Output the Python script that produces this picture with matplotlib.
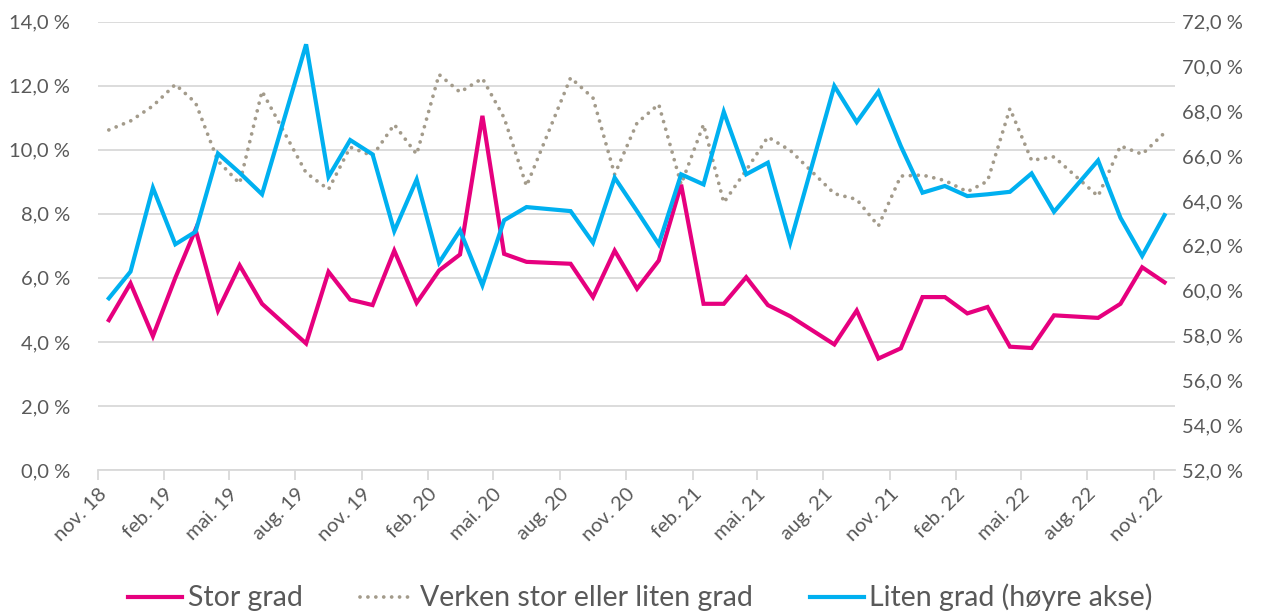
import matplotlib
matplotlib.use("Agg")
import matplotlib.pyplot as plt
import pandas as pd
from matplotlib.ticker import FuncFormatter, MultipleLocator

# Data - monthly survey, no survey in July
months = ["2018-11", "2018-12",
          "2019-01", "2019-02", "2019-03", "2019-04", "2019-05", "2019-06",
          "2019-08", "2019-09", "2019-10", "2019-11", "2019-12",
          "2020-01", "2020-02", "2020-03", "2020-04", "2020-05", "2020-06",
          "2020-08", "2020-09", "2020-10", "2020-11", "2020-12",
          "2021-01", "2021-02", "2021-03", "2021-04", "2021-05", "2021-06",
          "2021-08", "2021-09", "2021-10", "2021-11", "2021-12",
          "2022-01", "2022-02", "2022-03", "2022-04", "2022-05", "2022-06",
          "2022-08", "2022-09", "2022-10", "2022-11"]

stor_grad = [4.68, 5.83,
             4.18, 6.00, 7.51, 4.98, 6.39, 5.19,
             3.95, 6.19, 5.32, 5.15, 6.85,
             5.22, 6.23, 6.73, 11.06, 6.75, 6.50,
             6.44, 5.40, 6.85, 5.66, 6.54,
             8.91, 5.19, 5.19, 6.02, 5.15, 4.80,
             3.92, 4.98, 3.48, 3.80, 5.40,
             5.40, 4.89, 5.09, 3.85, 3.81, 4.83,
             4.75, 5.19, 6.33, 5.86]

verken = [10.62, 10.90,
          11.37, 12.04, 11.47, 9.65, 8.95, 11.83,
          9.28, 8.76, 10.08, 9.81, 10.79,
          9.86, 12.35, 11.80, 12.23, 11.00, 8.87,
          12.25, 11.62, 9.23, 10.84, 11.42,
          8.92, 10.79, 8.35, 9.36, 10.40, 9.98,
          8.63, 8.45, 7.62, 9.18, 9.21,
          9.04, 8.69, 9.02, 11.29, 9.67, 9.78,
          8.55, 10.12, 9.86, 10.53]

liten_grad = [59.66, 60.85,
              64.59, 62.07, 62.63, 66.12, 65.26, 64.30,
              70.99, 65.08, 66.72, 66.08, 62.66,
              64.96, 61.25, 62.69, 60.24, 63.14, 63.73,
              63.55, 62.14, 65.04, 63.55, 62.07,
              65.19, 64.74, 67.98, 65.19, 65.71, 62.14,
              69.13, 67.52, 68.88, 66.45, 64.37,
              64.67, 64.22, 64.30, 64.41, 65.23, 63.52,
              65.81, 63.25, 61.55, 63.37]

tick_months = ["2018-11", "2019-02", "2019-05", "2019-08", "2019-11", "2020-02",
               "2020-05", "2020-08", "2020-11", "2021-02", "2021-05", "2021-08",
               "2021-11", "2022-02", "2022-05", "2022-08", "2022-11"]
tick_labels = ["nov. 18", "feb. 19", "mai. 19", "aug. 19", "nov. 19", "feb. 20",
               "mai. 20", "aug. 20", "nov. 20", "feb. 21", "mai. 21", "aug. 21",
               "nov. 21", "feb. 22", "mai. 22", "aug. 22", "nov. 22"]

# Farger
PINK = "#E6007E"
GRAY = "#A39B8B"
BLUE = "#00B0F0"
TXT = "#595959"
GRID = "#D9D9D9"

plt.rcParams["font.family"] = ["Lato", "DejaVu Sans"]

dates = pd.to_datetime(months) + pd.Timedelta(days=15)
ticks = pd.to_datetime(tick_months)

fig = plt.figure(figsize=(12.81, 6.13), dpi=100)
ax = fig.add_axes([0.0765, 0.2333, 0.8405, 0.7313])
ax2 = ax.twinx()

l1, = ax.plot(dates, stor_grad, color=PINK, lw=3.0, solid_joinstyle="miter", label="Stor grad")
l2, = ax.plot(dates, verken, color=GRAY, lw=2.7, linestyle=(0, (0.01, 2.1)),
              dash_capstyle="round", label="Verken stor eller liten grad")
l3, = ax2.plot(dates, liten_grad, color=BLUE, lw=3.0, solid_joinstyle="miter",
               label="Liten grad (høyre akse)")

pct = FuncFormatter(lambda v, p: f"{v:.1f}".replace(".", ",") + " %")

ax.set_ylim(0, 14)
ax.yaxis.set_major_locator(MultipleLocator(2))
ax.yaxis.set_major_formatter(pct)
ax2.set_ylim(52, 72)
ax2.yaxis.set_major_locator(MultipleLocator(2))
ax2.yaxis.set_major_formatter(pct)

ax.set_xlim(pd.Timestamp("2018-11-01"), pd.Timestamp("2022-11-30"))
ax.set_xticks(ticks)
ax.set_xticklabels(tick_labels, rotation=45, ha="right", rotation_mode="anchor")

ax.grid(axis="y", color=GRID, lw=1.3)
ax.set_axisbelow(True)
for a in (ax, ax2):
    for s in ("top", "left", "right"):
        a.spines[s].set_visible(False)
    a.spines["bottom"].set_color(GRID)
    a.spines["bottom"].set_linewidth(1.3)
ax2.spines["bottom"].set_visible(False)

ax.tick_params(axis="y", length=0, labelsize=14.5, labelcolor=TXT, pad=20)
ax2.tick_params(axis="y", length=0, labelsize=14.5, labelcolor=TXT, pad=5)
ax.tick_params(axis="x", length=7, width=1.3, color=GRID, labelsize=14.5, labelcolor=TXT, pad=4)

fig.legend(handles=[l1, l2, l3], loc="center", bbox_to_anchor=(0.5, 0.025), ncol=3,
           frameon=False, fontsize=20.5, labelcolor=TXT, handlelength=1.9,
           handletextpad=0.2, columnspacing=2.0)

fig.savefig("out.png", dpi=100)
